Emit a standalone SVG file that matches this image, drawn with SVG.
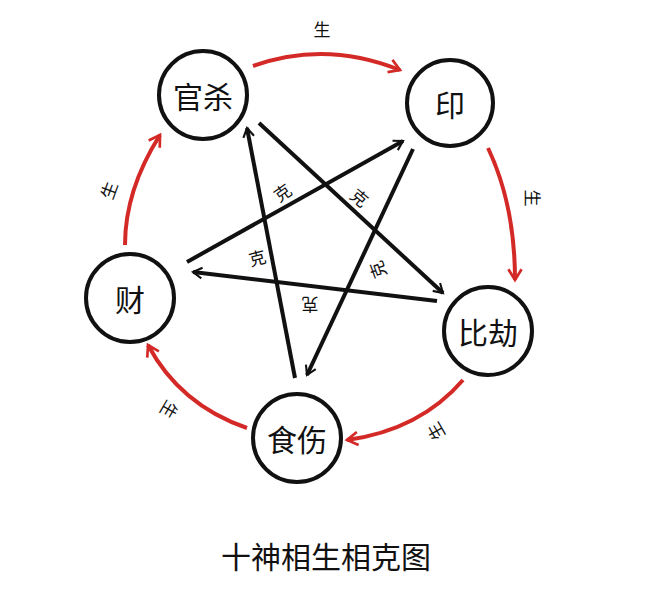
<svg xmlns="http://www.w3.org/2000/svg" width="651" height="595" viewBox="0 0 651 595">
<defs>
<marker id="ra" viewBox="0 0 10 10" refX="0" refY="0" markerWidth="6" markerHeight="6" orient="auto" markerUnits="userSpaceOnUse" style="overflow:visible"><path d="M-18,-11 L0,0 L-18,11" fill="none" stroke="#d42a27" stroke-width="4.5"/></marker>
<marker id="ka" viewBox="0 0 10 10" refX="0" refY="0" markerWidth="6" markerHeight="6" orient="auto" markerUnits="userSpaceOnUse" style="overflow:visible"><path d="M-15,-9 L0,0 L-15,9" fill="none" stroke="#111" stroke-width="3.5"/></marker>
</defs>
<style>
.n{fill:#fff;stroke:#111;stroke-width:4}
.t{font-family:"Noto Sans CJK SC",sans-serif;font-size:30px;fill:#111;text-anchor:middle;dominant-baseline:central}
.s{font-family:"Noto Sans CJK SC",sans-serif;font-size:17px;fill:#111;text-anchor:middle;dominant-baseline:central}
.r{fill:none;stroke:#d42a27;stroke-width:4}
.k{fill:none;stroke:#111;stroke-width:4}
</style>
<rect width="651" height="595" fill="#fff"/>
<g id="connectors">
<path class="r" d="M253,66 Q325,40 400,70" marker-end="url(#ra)"/>
<path class="r" d="M488,148 Q515,205 515,280" marker-end="url(#ra)"/>
<path class="r" d="M463,380 Q420,430 347,440" marker-end="url(#ra)"/>
<path class="r" d="M247,428 Q180,405 148,345" marker-end="url(#ra)"/>
<path class="r" d="M125,245 Q125,190 160,135" marker-end="url(#ra)"/>
<line class="k" x1="295" y1="378" x2="247" y2="128" marker-end="url(#ka)"/>
<line class="k" x1="259" y1="123" x2="443" y2="293" marker-end="url(#ka)"/>
<line class="k" x1="187" y1="262" x2="403" y2="141" marker-end="url(#ka)"/>
<line class="k" x1="413" y1="149" x2="307" y2="375" marker-end="url(#ka)"/>
<line class="k" x1="437" y1="301" x2="193" y2="272" marker-end="url(#ka)"/>
<text class="s" x="322" y="28">生</text>
<text class="s" transform="translate(533,198) rotate(90)">生</text>
<text class="s" transform="translate(435,432) rotate(-120)">生</text>
<text class="s" transform="translate(170,410) rotate(120)">生</text>
<text class="s" transform="translate(108,190) rotate(-70)">生</text>
<text class="s" transform="translate(282,192) rotate(-35)">克</text>
<text class="s" transform="translate(360,197) rotate(40)">克</text>
<text class="s" transform="translate(257,257) rotate(-15)">克</text>
<text class="s" transform="translate(377,270) rotate(-110)">克</text>
<text class="s" transform="translate(310,305) rotate(180)">克</text>
</g>
<g id="guansha"><circle class="n" cx="203" cy="95" r="44"/><text class="t" x="203" y="95">官杀</text></g>
<g id="yin"><circle class="n" cx="450" cy="103" r="43"/><text class="t" x="450" y="103">印</text></g>
<g id="bijie"><circle class="n" cx="488" cy="331" r="44"/><text class="t" x="488" y="331">比劫</text></g>
<g id="shishang"><circle class="n" cx="297" cy="438" r="44"/><text class="t" x="297" y="438">食伤</text></g>
<g id="cai"><circle class="n" cx="130" cy="298" r="44"/><text class="t" x="130" y="298">财</text></g>
<text class="t" x="326" y="555" style="font-size:30px">十神相生相克图</text>
</svg>
